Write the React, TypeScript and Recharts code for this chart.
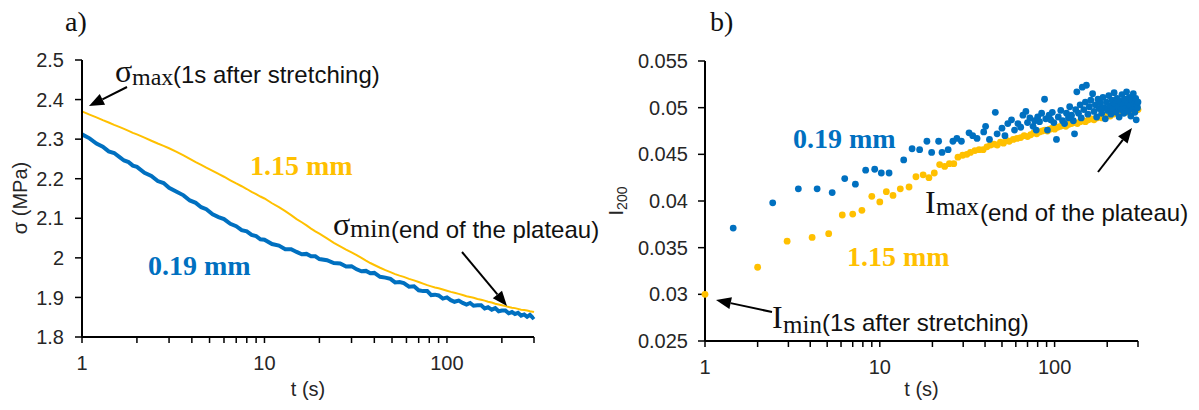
import React from "react";
import { LineChart, Line, ScatterChart, Scatter, XAxis, YAxis } from "recharts";

const BLUE = "#0070C0";
const GOLD = "#FFC000";
const SANS = '"Liberation Sans", Arial, sans-serif';
const SERIF = '"Liberation Serif", "Times New Roman", serif';

// shared log-axis ticks (only decades get a label)
const timeTicks = [1, 2, 3, 4, 5, 6, 7, 8, 9, 10, 20, 30, 40, 50, 60, 70, 80, 90, 100, 200, 300];
const timeLabels = [1, 10, 100];

// a) stress relaxation
const sigmaTicks = [1.8, 1.9, 2, 2.1, 2.2, 2.3, 2.4, 2.5];
const sigmaTime = [
  1, 1.1, 1.2, 1.3, 1.4, 1.5, 1.6, 1.7, 1.8, 1.9,
  2, 2.2, 2.4, 2.6, 2.8, 3, 3.3, 3.6, 3.9, 4.2,
  4.5, 4.8, 5.2, 5.6, 6, 6.5, 7, 7.5, 8, 8.5,
  9, 9.5, 10, 11, 12, 13, 14, 15, 16, 17,
  18, 19, 20, 22, 24, 26, 28, 30, 32, 34,
  36, 38, 40, 43, 46, 49, 52, 55, 58, 62,
  66, 70, 74, 78, 82, 86, 90, 95, 100, 105,
  110, 116, 122, 128, 134, 140, 147, 154, 161, 168,
  176, 184, 192, 200, 209, 218, 227, 236, 245, 255,
  265, 275, 285, 295, 300,
];
const sigma115 = [
  2.370, 2.362, 2.355, 2.348, 2.342, 2.336, 2.331, 2.326, 2.321, 2.316,
  2.312, 2.304, 2.296, 2.289, 2.283, 2.277, 2.268, 2.259, 2.250, 2.242,
  2.235, 2.228, 2.220, 2.212, 2.205, 2.196, 2.188, 2.181, 2.174, 2.167,
  2.161, 2.155, 2.150, 2.138, 2.128, 2.118, 2.108, 2.098, 2.090, 2.082,
  2.074, 2.067, 2.061, 2.049, 2.038, 2.029, 2.021, 2.014, 2.007, 2.000,
  1.993, 1.987, 1.982, 1.975, 1.969, 1.964, 1.959, 1.955, 1.952, 1.947,
  1.943, 1.939, 1.935, 1.931, 1.928, 1.925, 1.923, 1.920, 1.917, 1.914,
  1.912, 1.909, 1.906, 1.903, 1.901, 1.899, 1.896, 1.894, 1.892, 1.889,
  1.887, 1.884, 1.882, 1.880, 1.878, 1.876, 1.874, 1.873, 1.871, 1.869,
  1.868, 1.867, 1.865, 1.864, 1.863,
];
const sigma019 = [
  2.312, 2.302, 2.289, 2.281, 2.269, 2.265, 2.255, 2.246, 2.242, 2.233,
  2.230, 2.215, 2.207, 2.194, 2.189, 2.177, 2.167, 2.158, 2.145, 2.139,
  2.128, 2.123, 2.110, 2.103, 2.098, 2.086, 2.080, 2.070, 2.067, 2.058,
  2.055, 2.047, 2.046, 2.035, 2.031, 2.022, 2.022, 2.015, 2.009, 2.010,
  2.004, 2.004, 1.997, 1.994, 1.987, 1.986, 1.978, 1.979, 1.971, 1.966,
  1.967, 1.961, 1.962, 1.952, 1.950, 1.947, 1.938, 1.939, 1.936, 1.927,
  1.928, 1.918, 1.916, 1.916, 1.906, 1.907, 1.905, 1.897, 1.900, 1.893,
  1.889, 1.892, 1.886, 1.882, 1.886, 1.879, 1.880, 1.880, 1.872, 1.875,
  1.869, 1.873, 1.865, 1.867, 1.867, 1.860, 1.863, 1.858, 1.861, 1.854,
  1.857, 1.851, 1.856, 1.849, 1.852,
];

// b) I200 intensity
const iTicks = [0.025, 0.03, 0.035, 0.04, 0.045, 0.05, 0.055];
const time115 = [
  1, 2, 2.95, 4.1, 5.1, 6.1, 7, 7.9, 9, 10,
  10.9, 11.9, 13.1, 14.7, 16.1, 17.7, 19.1, 20.5, 22, 23.5,
  25, 26.5, 28, 29.8, 31.5, 33, 35, 37, 39, 41,
  43, 45, 47, 49, 51, 53, 55, 58, 61, 64,
  67, 70, 73, 76, 79, 82, 85, 88, 91, 94,
  97, 100, 104, 108, 112, 116, 120, 125, 130, 135,
  140, 145, 150, 156, 162, 168, 174, 180, 187, 194,
  201, 208, 216, 224, 232, 240, 248, 256, 264, 272,
  280, 288, 296, 300,
];
const i115 = [
  0.0300, 0.0329, 0.0357, 0.0361, 0.0365, 0.0385, 0.0386, 0.0390, 0.0405, 0.0399,
  0.0410, 0.0406, 0.0413, 0.0415, 0.0426, 0.0428, 0.0425, 0.0430, 0.0439, 0.0437,
  0.0440, 0.0440, 0.0447, 0.0449, 0.0450, 0.0452, 0.0454, 0.0455, 0.0455, 0.0458,
  0.0460, 0.0461, 0.0460, 0.0463, 0.0462, 0.0465, 0.0464, 0.0466, 0.0467, 0.0468,
  0.0470, 0.0469, 0.0471, 0.0473, 0.0472, 0.0474, 0.0475, 0.0476, 0.0475, 0.0477,
  0.0478, 0.0477, 0.0479, 0.0480, 0.0481, 0.0480, 0.0482, 0.0483, 0.0484, 0.0483,
  0.0485, 0.0486, 0.0485, 0.0487, 0.0488, 0.0487, 0.0489, 0.0490, 0.0489, 0.0491,
  0.0492, 0.0491, 0.0493, 0.0494, 0.0493, 0.0495, 0.0496, 0.0495, 0.0497, 0.0498,
  0.0497, 0.0499, 0.0500, 0.0498,
];
const time019 = [
  1.45, 2.44, 3.42, 4.38, 5.34, 6.3, 7.25, 8.3, 9.35, 10.2,
  11.3, 13.7, 15.3, 16.9, 18.6, 19.8, 21.7, 22.7, 24.6, 26.2,
  27.6, 29.3, 32.4, 34, 36, 39.3, 40.3, 42.4, 45.8, 46.9,
  50, 52, 54, 56.7, 59, 61.7, 64, 65.9, 68.5, 70,
  72.2, 75.3, 77, 78.5, 80, 82, 84.3, 87.6, 89, 91,
  93, 95, 97, 99, 102.5, 105, 108.5, 111, 114, 117,
  120, 122, 125, 128, 130, 132, 134, 137, 140, 142,
  144, 147, 150, 152, 155, 158, 161, 165, 168, 171,
  174, 177, 180, 183, 186, 189, 192, 195, 198, 201,
  204, 207, 210, 213, 216, 219, 222, 225, 228, 231,
  234, 237, 240, 243, 246, 249, 252, 255, 258, 261,
  264, 267, 270, 273, 276, 279, 282, 285, 288, 291,
  293, 296, 298, 300,
];
const i019 = [
  0.0371, 0.0398, 0.0413, 0.0413, 0.0409, 0.0424, 0.0418, 0.0433, 0.0434, 0.0430,
  0.0430, 0.0444, 0.0456, 0.0455, 0.0464, 0.0452, 0.0464, 0.0452, 0.0455, 0.0464,
  0.0467, 0.0464, 0.0473, 0.0470, 0.0467, 0.0474, 0.0480, 0.0466, 0.0495, 0.0472,
  0.0478, 0.0470, 0.0483, 0.0487, 0.0476, 0.0483, 0.0479, 0.0492, 0.0496, 0.0484,
  0.0489, 0.0480, 0.0486, 0.0476, 0.0490, 0.0485, 0.0494, 0.0509, 0.0488, 0.0476,
  0.0492, 0.0487, 0.0495, 0.0484, 0.0466, 0.0490, 0.0497, 0.0486, 0.0483, 0.0494,
  0.0489, 0.0501, 0.0492, 0.0486, 0.0472, 0.0498, 0.0517, 0.0494, 0.0503, 0.0489,
  0.0522, 0.0498, 0.0506, 0.0524, 0.0493, 0.0501, 0.0508, 0.0515, 0.0496, 0.0503,
  0.0490, 0.0509, 0.0499, 0.0505, 0.0494, 0.0511, 0.0500, 0.0488, 0.0506, 0.0497,
  0.0513, 0.0502, 0.0493, 0.0508, 0.0499, 0.0516, 0.0504, 0.0495, 0.0510, 0.0501,
  0.0490, 0.0507, 0.0498, 0.0514, 0.0503, 0.0494, 0.0509, 0.0500, 0.0517, 0.0505,
  0.0496, 0.0511, 0.0502, 0.0491, 0.0508, 0.0499, 0.0515, 0.0504, 0.0495, 0.0510,
  0.0487, 0.0503, 0.0500, 0.0506,
];

const sigmaRows = sigmaTime.map((t, i) => ({ t, thick: sigma019[i], thin: sigma115[i] }));
const rows115 = time115.map((t, i) => ({ t, v: i115[i] }));
const rows019 = time019.map((t, i) => ({ t, v: i019[i] }));

const tickFont = { fill: "#262626", fontSize: 20, fontFamily: SANS };
const axisLine = { stroke: "#000", strokeWidth: 2 };
const tickLine = { stroke: "#000", strokeWidth: 1.5 };
const axisTitle = { fill: "#262626", fontSize: 20, fontFamily: SANS };
const timeFmt = (v: number) => (timeLabels.includes(v) ? String(v) : "");

function Arrow({ x1, y1, x2, y2 }: { x1: number; y1: number; x2: number; y2: number }) {
  const a = Math.atan2(y2 - y1, x2 - x1);
  const len = 15;
  const half = 6;
  const bx = x2 - len * Math.cos(a);
  const by = y2 - len * Math.sin(a);
  const px = -Math.sin(a) * half;
  const py = Math.cos(a) * half;
  return (
    <g>
      <line x1={x1} y1={y1} x2={bx} y2={by} stroke="#000" strokeWidth={2} />
      <polygon points={`${x2},${y2} ${bx + px},${by + py} ${bx - px},${by - py}`} fill="#000" />
    </g>
  );
}

function Annotations() {
  return (
    <svg
      width={1199}
      height={410}
      style={{ position: "absolute", left: 0, top: 0, pointerEvents: "none" }}
    >
      <text x={65} y={31} fontFamily={SERIF} fontSize={28} fill="#111">a)</text>
      <text x={710} y={31} fontFamily={SERIF} fontSize={28} fill="#111">b)</text>

      <text transform="translate(27,198) rotate(-90)" textAnchor="middle" {...axisTitle}>
        σ (MPa)
      </text>
      <text transform="translate(623,201) rotate(-90)" textAnchor="middle" {...axisTitle}>
        I<tspan fontSize={14} dy={4}>200</tspan>
      </text>

      {/* panel a */}
      <text fill="#111">
        <tspan x={115} y={82} fontFamily={SERIF} fontSize={32}>σ</tspan>
        <tspan x={132} y={85} fontFamily={SERIF} fontSize={24}>max</tspan>
        <tspan x={173} y={83} fontFamily={SANS} fontSize={24}>(1s after stretching)</tspan>
      </text>
      <Arrow x1={127} y1={87} x2={89} y2={106} />
      <text x={250} y={175} fontFamily={SERIF} fontWeight="bold" fontSize={28} fill={GOLD}>1.15 mm</text>
      <text x={148} y={275} fontFamily={SERIF} fontWeight="bold" fontSize={28} fill={BLUE}>0.19 mm</text>
      <text fill="#111">
        <tspan x={333} y={235} fontFamily={SERIF} fontSize={32}>σ</tspan>
        <tspan x={350} y={237} fontFamily={SERIF} fontSize={26}>min</tspan>
        <tspan x={391} y={238} fontFamily={SANS} fontSize={24}>(end of the plateau)</tspan>
      </text>
      <Arrow x1={462} y1={252} x2={507} y2={306} />

      {/* panel b */}
      <text x={793} y={148} fontFamily={SERIF} fontWeight="bold" fontSize={28} fill={BLUE}>0.19 mm</text>
      <text x={847} y={266} fontFamily={SERIF} fontWeight="bold" fontSize={28} fill={GOLD}>1.15 mm</text>
      <text fill="#111">
        <tspan x={772} y={328} fontFamily={SERIF} fontSize={32}>I</tspan>
        <tspan x={783} y={333} fontFamily={SERIF} fontSize={25}>min</tspan>
        <tspan x={822} y={331} fontFamily={SANS} fontSize={24}>(1s after stretching)</tspan>
      </text>
      <Arrow x1={772} y1={312} x2={716} y2={300} />
      <text fill="#111">
        <tspan x={925} y={213} fontFamily={SERIF} fontSize={32}>I</tspan>
        <tspan x={936} y={215} fontFamily={SERIF} fontSize={25}>max</tspan>
        <tspan x={980} y={221} fontFamily={SANS} fontSize={24}>(end of the plateau)</tspan>
      </text>
      <Arrow x1={1098} y1={172} x2={1132} y2={128} />
    </svg>
  );
}

export default function App() {
  return (
    <div style={{ position: "fixed", left: 0, top: 0, width: 1199, height: 410, background: "#fff" }}>
      <div style={{ position: "absolute", left: 0, top: 0 }}>
        <LineChart width={560} height={410} data={sigmaRows} margin={{ top: 60, right: 26, bottom: 0, left: 0 }}>
          <XAxis
            dataKey="t"
            type="number"
            scale="log"
            domain={[1, 300]}
            ticks={timeTicks}
            interval={0}
            tickFormatter={timeFmt}
            height={73}
            tickSize={6}
            tickMargin={13}
            tick={tickFont}
            axisLine={axisLine}
            tickLine={tickLine}
            label={{ value: "t (s)", position: "insideBottom", offset: 14, ...axisTitle }}
          />
          <YAxis
            type="number"
            domain={[1.8, 2.5]}
            ticks={sigmaTicks}
            interval={0}
            width={82}
            tickSize={7}
            tickMargin={11}
            tick={tickFont}
            axisLine={axisLine}
            tickLine={tickLine}
          />
          <Line type="linear" dataKey="thick" stroke={BLUE} strokeWidth={4} dot={false} isAnimationActive={false} />
          <Line type="linear" dataKey="thin" stroke={GOLD} strokeWidth={2} dot={false} isAnimationActive={false} />
        </LineChart>
      </div>
      <div style={{ position: "absolute", left: 560, top: 0 }}>
        <ScatterChart width={600} height={410} margin={{ top: 61, right: 22, bottom: 0, left: 0 }}>
          <XAxis
            dataKey="t"
            type="number"
            scale="log"
            domain={[1, 300]}
            ticks={timeTicks}
            interval={0}
            tickFormatter={timeFmt}
            height={69}
            tickSize={6}
            tickMargin={13}
            tick={tickFont}
            axisLine={axisLine}
            tickLine={tickLine}
            label={{ value: "t (s)", position: "insideBottom", offset: 14, ...axisTitle }}
          />
          <YAxis
            dataKey="v"
            type="number"
            domain={[0.025, 0.055]}
            ticks={iTicks}
            interval={0}
            width={145}
            tickSize={7}
            tickMargin={10}
            tick={tickFont}
            axisLine={axisLine}
            tickLine={tickLine}
          />
          <Scatter
            data={rows115}
            fill={GOLD}
            isAnimationActive={false}
            shape={(p: any) => <circle cx={p.cx} cy={p.cy} r={3.4} fill={GOLD} />}
          />
          <Scatter
            data={rows019}
            fill={BLUE}
            isAnimationActive={false}
            shape={(p: any) => <circle cx={p.cx} cy={p.cy} r={3.4} fill={BLUE} />}
          />
        </ScatterChart>
      </div>
      <Annotations />
    </div>
  );
}
